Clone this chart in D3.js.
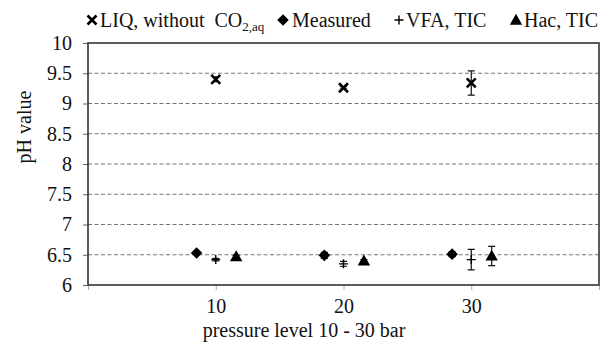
<!DOCTYPE html>
<html>
<head>
<meta charset="utf-8">
<script src="https://cdn.jsdelivr.net/npm/d3@7"></script>
<style>
  body { margin: 0; background: #fff; }
  svg text { font-family: "Liberation Serif", "Times New Roman", serif !important; fill: #111; }
</style>
</head>
<body>
<div id="chart"></div>
<script>
// pressure levels (bar) and pH values
const pressures   = [10, 20, 30];
const liq         = [9.40, 9.26, 9.34];
const liqErr      = [0.04, 0.02, 0.20];
const measured    = [6.53, 6.49, 6.51];
const measuredErr = [0.02, 0.05, 0.04];
const vfa         = [6.42, 6.35, 6.42];
const vfaErr      = [0.02, 0.04, 0.17];
const hac         = [6.47, 6.40, 6.48];
const hacErr      = [0.02, 0.02, 0.16];
const yTicks      = [6, 6.5, 7, 7.5, 8, 8.5, 9, 9.5, 10];
const xTicks      = [10, 20, 30];

const W = 603, H = 342;
const margin = {top: 43, right: 4, bottom: 57, left: 88};

const svg = d3.select("#chart").append("svg")
    .attr("width", W).attr("height", H);

const x = d3.scaleLinear().domain([0, 40]).range([margin.left, W - margin.right]);
const y = d3.scaleLinear().domain([6, 10]).range([H - margin.bottom, margin.top]);

// dashed gridlines
svg.append("g").selectAll("line")
  .data(yTicks.filter(d => d > 6 && d < 10))
  .enter().append("line")
    .attr("x1", x(0)).attr("x2", x(40))
    .attr("y1", d => y(d)).attr("y2", d => y(d))
    .attr("stroke", "#777").attr("stroke-width", 1.2)
    .attr("stroke-dasharray", "4,2.5");

// y axis
const yAxis = svg.append("g")
    .attr("transform", "translate(" + x(0) + ",0)")
    .call(d3.axisLeft(y).tickValues(yTicks).tickSize(5).tickPadding(11).tickFormat(d3.format("")));
yAxis.attr("font-family", null).attr("font-size", null);
yAxis.select(".domain").remove();
yAxis.selectAll("line").attr("stroke", "#666");
yAxis.selectAll("text").style("font-size", "20px");

// x axis
const xAxis = svg.append("g")
    .attr("transform", "translate(0," + y(6) + ")")
    .call(d3.axisBottom(x).tickValues([0].concat(xTicks, [40])).tickSize(5).tickPadding(9)
      .tickFormat(d => xTicks.includes(d) ? d : ""));
xAxis.attr("font-family", null).attr("font-size", null);
xAxis.select(".domain").remove();
xAxis.selectAll("line").attr("stroke", "#aaa");
xAxis.selectAll("text").style("font-size", "20px");

// plot frame
svg.append("rect")
    .attr("x", x(0)).attr("y", y(10))
    .attr("width", x(40) - x(0)).attr("height", y(6) - y(10))
    .attr("fill", "none").attr("stroke", "#333").attr("stroke-width", 1.6);

// axis titles
svg.append("text")
    .attr("x", 304).attr("y", 337)
    .attr("text-anchor", "middle").style("font-size", "20px")
    .text("pressure level 10 - 30 bar");
svg.append("text")
    .attr("transform", "translate(31,127) rotate(-90)")
    .attr("text-anchor", "middle").style("font-size", "20px")
    .text("pH value");

const series = [
  {vals: liq,      err: liqErr,      off: 0,    sym: "x"},
  {vals: measured, err: measuredErr, off: -1.5, sym: "diamond"},
  {vals: vfa,      err: vfaErr,      off: 0,    sym: "plus"},
  {vals: hac,      err: hacErr,      off: 1.6,  sym: "tri"}
];

function drawSymbol(g, type, cx, cy) {
  if (type === "x") {
    const s = 4.5;
    g.append("path")
      .attr("d", "M" + (cx - s) + "," + (cy - s) + "L" + (cx + s) + "," + (cy + s)
        + "M" + (cx - s) + "," + (cy + s) + "L" + (cx + s) + "," + (cy - s))
      .attr("stroke", "#000").attr("stroke-width", 2.6).attr("fill", "none");
  } else if (type === "plus") {
    const s = 4.5;
    g.append("path")
      .attr("d", "M" + (cx - s) + "," + cy + "L" + (cx + s) + "," + cy
        + "M" + cx + "," + (cy - s) + "L" + cx + "," + (cy + s))
      .attr("stroke", "#000").attr("stroke-width", 1.4).attr("fill", "none");
  } else if (type === "diamond") {
    const s = 5.8;
    g.append("path")
      .attr("d", "M" + cx + "," + (cy - s) + "L" + (cx + s) + "," + cy
        + "L" + cx + "," + (cy + s) + "L" + (cx - s) + "," + cy + "Z")
      .attr("fill", "#000");
  } else {
    const s = 6.2;
    g.append("path")
      .attr("d", "M" + cx + "," + (cy - s) + "L" + (cx + s) + "," + (cy + s * 0.75)
        + "L" + (cx - s) + "," + (cy + s * 0.75) + "Z")
      .attr("fill", "#000");
  }
}

const marks = svg.append("g");
series.forEach(s => {
  pressures.forEach((p, i) => {
    const cx = x(p + s.off);
    const lo = y(s.vals[i] - s.err[i]), hi = y(s.vals[i] + s.err[i]);
    marks.append("path")
      .attr("d", "M" + cx + "," + lo + "L" + cx + "," + hi
        + "M" + (cx - 3.5) + "," + lo + "L" + (cx + 3.5) + "," + lo
        + "M" + (cx - 3.5) + "," + hi + "L" + (cx + 3.5) + "," + hi)
      .attr("stroke", "#111").attr("stroke-width", 1.2).attr("fill", "none");
    drawSymbol(marks, s.sym, cx, y(s.vals[i]));
  });
});

// legend
const leg = svg.append("g").style("font-size", "20px");
drawSymbol(leg, "x", 92, 20);
const t1 = leg.append("text").attr("x", 100).attr("y", 27);
t1.append("tspan").text("LIQ, without\u00a0\u00a0CO");
t1.append("tspan").attr("dy", 4).style("font-size", "13px").text("2,aq");
drawSymbol(leg, "diamond", 283, 20);
leg.append("text").attr("x", 292).attr("y", 27).text("Measured");
drawSymbol(leg, "plus", 399, 20);
leg.append("text").attr("x", 406).attr("y", 27).text("VFA, TIC");
drawSymbol(leg, "tri", 516, 20);
leg.append("text").attr("x", 524).attr("y", 27).text("Hac, TIC");
</script>
</body>
</html>
